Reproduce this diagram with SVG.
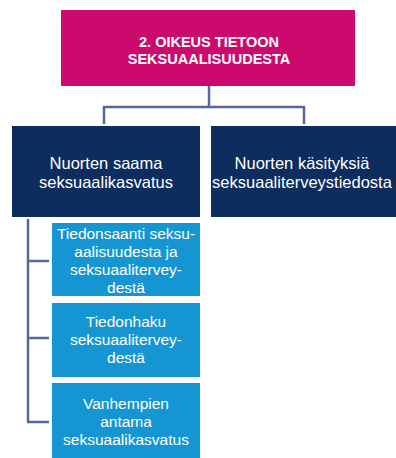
<svg xmlns="http://www.w3.org/2000/svg" width="396" height="458" viewBox="0 0 396 458">
<style>
text{font-family:"Liberation Sans",Arial,sans-serif;fill:#fff;text-anchor:middle}
.t{font-size:14.5px;font-weight:bold}
.m{font-size:16.5px}
.s{font-size:15.5px}
.c{stroke:#5566a0;stroke-width:2.5;fill:none}
</style>
<rect width="396" height="458" fill="#fff"/>
<g id="connectors">
<path class="c" d="M209 86V107M104 107H304M104 106V124M304 106V124"/>
<path class="c" d="M28 219V422M27 261H49M27 338H49M27 422H49"/>
</g>
<g id="root">
<rect x="61" y="10" width="294" height="76" fill="#cc0a6e"/>
<text class="t" x="209" y="47">2. OIKEUS TIETOON</text>
<text class="t" x="209" y="64">SEKSUAALISUUDESTA</text>
</g>
<g id="n1">
<rect x="12" y="126" width="188" height="91" fill="#0c2d5e"/>
<text class="m" x="106" y="169">Nuorten saama</text>
<text class="m" x="106" y="188">seksuaalikasvatus</text>
</g>
<g id="n2">
<rect x="211" y="126" width="185" height="91" fill="#0c2d5e"/>
<text class="m" x="302" y="169">Nuorten käsityksiä</text>
<text class="m" x="302" y="188">seksuaaliterveystiedosta</text>
</g>
<g id="s1">
<rect x="52" y="223" width="148" height="73" fill="#1596d3"/>
<text class="s" x="126" y="239">Tiedonsaanti seksu-</text>
<text class="s" x="126" y="257">aalisuudesta ja</text>
<text class="s" x="126" y="275">seksuaalitervey-</text>
<text class="s" x="126" y="293">destä</text>
</g>
<g id="s2">
<rect x="52" y="303" width="148" height="74" fill="#1596d3"/>
<text class="s" x="126" y="327">Tiedonhaku</text>
<text class="s" x="126" y="345">seksuaalitervey-</text>
<text class="s" x="126" y="363">destä</text>
</g>
<g id="s3">
<rect x="52" y="383" width="148" height="75" fill="#1596d3"/>
<text class="s" x="126" y="409">Vanhempien</text>
<text class="s" x="126" y="427">antama</text>
<text class="s" x="126" y="445">seksuaalikasvatus</text>
</g>
</svg>
